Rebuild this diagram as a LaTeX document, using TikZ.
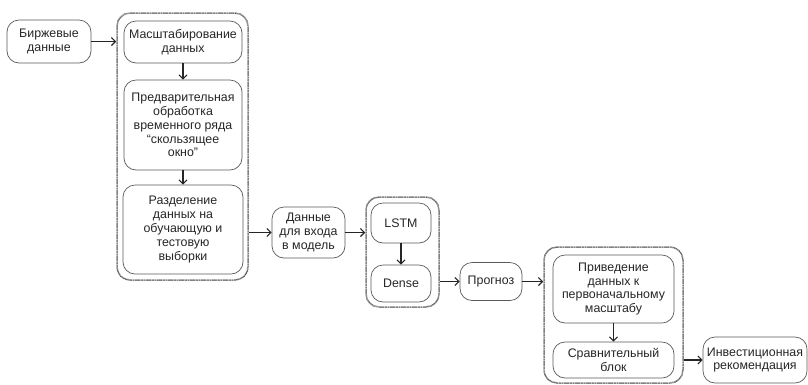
\documentclass[tikz,border=0pt]{standalone}
\usepackage{fontspec}
\setmainfont{Liberation Sans}
\usetikzlibrary{arrows.meta}
\definecolor{txt}{HTML}{262626}
\definecolor{edge}{HTML}{5a5a5a}
\tikzset{
  box/.style={draw=edge, line width=0.7pt, rounded corners=12pt, align=center,
    inner sep=0pt, text=txt, font=\fontsize{12.4}{13.8}\selectfont},
  grp/.style={draw=black!75, line width=1.5pt, dash pattern=on 0.5pt off 0.6pt,
    rounded corners=13pt, inner sep=0pt},
  arr/.style={draw=black!85, line width=1.2pt, -{Straight Barb[length=4pt,width=8pt,line width=1.1pt]}}
}
\begin{document}
\begin{tikzpicture}[x=1pt,y=-1pt]
\useasboundingbox (0,0) rectangle (808,384);
\fill[white] (0,0) rectangle (808,384);
% groups
\node[grp, minimum width=131pt, minimum height=267pt] (g1) at (182.5,146.5) {};
\node[grp, minimum width=73pt, minimum height=110pt] (g2) at (402.5,252) {};
\node[grp, minimum width=139pt, minimum height=136pt] (g3) at (613.5,315) {};
% boxes
\node[box, minimum width=84pt, minimum height=43pt] (src) at (49,41.5) {Биржевые\\данные};
\node[box, minimum width=118pt, minimum height=42pt] (m1) at (183,42) {Масштабирование\\данных};
\node[box, minimum width=118pt, minimum height=90pt] (m2) at (183,125) {Предварительная\\обработка\\временного ряда\\“скользящее\\окно”};
\node[box, minimum width=120pt, minimum height=89pt] (m3) at (183,229.5) {Разделение\\данных на\\обучающую и\\тестовую\\выборки};
\node[box, minimum width=73pt, minimum height=51pt] (inp) at (308.5,232.5) {Данные\\для входа\\в модель};
\node[box, minimum width=60pt, minimum height=40pt] (lstm) at (401,223) {LSTM};
\node[box, minimum width=60pt, minimum height=37pt] (dense) at (401,283.5) {Dense};
\node[box, minimum width=62pt, minimum height=38pt] (prog) at (491,281.5) {Прогноз};
\node[box, minimum width=121pt, minimum height=68pt] (p1) at (613.5,289) {Приведение\\данных к\\первоначальному\\масштабу};
\node[box, minimum width=121pt, minimum height=36pt] (p2) at (613.5,360) {Сравнительный\\блок};
\node[box, minimum width=104pt, minimum height=46pt] (inv) at (755,360) {Инвестиционная\\рекомендация};
% arrows
\draw[arr] (src.east) -- (src.east -| g1.west);
\draw[arr] (m1.south) -- (m2.north);
\draw[arr] (m2.south) -- (m3.north);
\draw[arr] (inp.west -| g1.east) -- (inp.west);
\draw[arr] (inp.east) -- (inp.east -| g2.west);
\draw[arr] (lstm.south) -- (dense.north);
\draw[arr] (prog.west -| g2.east) -- (prog.west);
\draw[arr] (prog.east) -- (prog.east -| g3.west);
\draw[arr] (p1.south) -- (p2.north);
\draw[arr] (inv.west -| g3.east) -- (inv.west);
\end{tikzpicture}
\end{document}
